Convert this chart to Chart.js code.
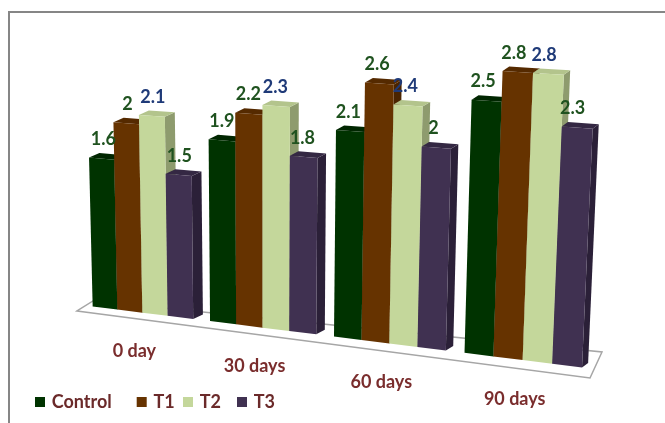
<!DOCTYPE html>
<html>
<head>
<meta charset="utf-8">
<script src="https://cdn.jsdelivr.net/npm/chart.js@4.4.1/dist/chart.umd.min.js"></script>
<style>
  html, body { margin: 0; padding: 0; background: #ffffff; }
  #wrap { width: 665px; height: 423px; position: relative; }
</style>
</head>
<body>
<div id="wrap"><canvas id="c" width="665" height="423"></canvas></div>
<script>
// ---- data ----
const categories = ['0 day', '30 days', '60 days', '90 days'];
const seriesNames = ['Control', 'T1', 'T2', 'T3'];
const control = [1.6, 1.9, 2.1, 2.5];
const t1 = [2.0, 2.2, 2.6, 2.8];
const t2 = [2.1, 2.3, 2.4, 2.8];
const t3 = [1.5, 1.8, 2.0, 2.3];
const valueMax = 3;

// ---- styles: front / side / top faces and value-label colour per series ----
const faces = [
  { front: '#003300', side: '#002000', top: '#002600', label: '#1f521f' },
  { front: '#663300', side: '#4a2400', top: '#552a00', label: '#1f521f' },
  { front: '#c4d79b', side: '#8e9b6e', top: '#b3c48c', label: '#1f3a78' },
  { front: '#403151', side: '#2b2038', top: '#342843', label: '#1f521f' }
];
const FONT = 'bold 18px Lato, "Open Sans", sans-serif';
const CAT_COLOR = '#7a2d2d';
const LEGEND_COLOR = '#6b2a2a';

// ---- perspective used to lay the flat chart out as a 3-D column chart ----
const persp = {
  xb: t => 84.7 + 454.5 * t + 52.6 * t * t,   // floor x along the category axis (t = 0..1)
  yb: x => 306 + 0.1247 * (x - 89),            // floor line under the column fronts
  unit: x => 93 + 0.022 * (x - 89),            // pixels per value unit
  vpx: 266, vpd: 7100,                          // vertical vanishing point
  depth: x => [10.5 - 0.009 * (x - 89), -4.5]   // receding direction of tops / sides
};
function project(t, v) {
  const xb = persp.xb(t);
  const h = v * persp.unit(xb);
  return { x: xb + (xb - persp.vpx) * h / persp.vpd, y: persp.yb(xb) - h };
}
function quad(ctx, pts, fill) {
  ctx.beginPath();
  ctx.moveTo(pts[0].x, pts[0].y);
  for (let i = 1; i < pts.length; i++) ctx.lineTo(pts[i].x, pts[i].y);
  ctx.closePath();
  ctx.fillStyle = fill;
  ctx.fill();
}

const columns3d = {
  id: 'columns3d',
  beforeDraw(chart) {
    const ctx = chart.ctx;
    ctx.save();
    ctx.strokeStyle = '#868686';
    ctx.lineWidth = 2;
    ctx.beginPath();
    ctx.moveTo(9, 423);
    ctx.lineTo(9, 12);
    ctx.lineTo(665, 12);
    ctx.stroke();
    ctx.restore();
  },
  beforeDatasetsDraw(chart) {
    const ctx = chart.ctx;
    const area = chart.chartArea;
    const yScale = chart.scales.y;
    const toT = px => (px - area.left) / (area.right - area.left);

    // floor
    const a = project(0, 0), b = project(1, 0);
    ctx.save();
    ctx.beginPath();
    ctx.moveTo(a.x - 7.7, a.y + 5.5);
    ctx.lineTo(a.x + 8.3, a.y - 4.5);
    ctx.lineTo(b.x + 10.2, b.y - 16.7);
    ctx.lineTo(b.x - 1.8, b.y + 9.3);
    ctx.closePath();
    ctx.fillStyle = '#ffffff';
    ctx.fill();
    ctx.strokeStyle = '#a6a6a6';
    ctx.lineWidth = 1.5;
    ctx.stroke();

    // columns, group by group, left to right
    const metas = chart.data.datasets.map((d, i) => chart.getDatasetMeta(i));
    const labels = [];
    for (let c = 0; c < categories.length; c++) {
      metas.forEach((meta, s) => {
        const el = meta.data[c];
        const t0 = toT(el.x - el.width / 2), t1v = toT(el.x + el.width / 2);
        const v = yScale.getValueForPixel(el.y);
        const BL = project(t0, 0), BR = project(t1v, 0);
        const TL = project(t0, v), TR = project(t1v, v);
        const [dx, dy] = persp.depth((TL.x + TR.x) / 2);
        const f = faces[s];
        quad(ctx, [BR, TR, { x: TR.x + dx, y: TR.y + dy }, { x: BR.x + dx, y: BR.y + dy }], f.side);
        quad(ctx, [TL, TR, { x: TR.x + dx, y: TR.y + dy }, { x: TL.x + dx, y: TL.y + dy }], f.top);
        quad(ctx, [BL, BR, TR, TL], f.front);
        const tc = (t0 + t1v) / 2;
        labels.push({
          x: (TL.x + TR.x) / 2 + 2 - 7 * tc,
          y: (TL.y + TR.y) / 2 - 19,
          text: String(chart.data.datasets[s].data[c]),
          color: f.label
        });
      });
    }

    // value labels
    ctx.font = FONT;
    ctx.textAlign = 'center';
    ctx.textBaseline = 'middle';
    labels.forEach(l => { ctx.fillStyle = l.color; ctx.fillText(l.text, l.x, l.y); });

    // category labels in front of the floor
    const xs = chart.scales.x;
    ctx.fillStyle = CAT_COLOR;
    categories.forEach((cat, i) => {
      const p = project(toT(xs.getPixelForValue(i)), 0);
      ctx.fillText(cat, p.x - 8, p.y + 39);
    });

    // legend
    const boxX = [35, 136.7, 183, 237];
    ctx.textAlign = 'left';
    chart.data.datasets.forEach((ds, i) => {
      ctx.fillStyle = faces[i].front;
      ctx.fillRect(boxX[i], 397, 10, 10);
      ctx.fillStyle = LEGEND_COLOR;
      ctx.fillText(ds.label, boxX[i] + 16.7, 402.5);
    });
    ctx.restore();
    return false;
  }
};

new Chart(document.getElementById('c'), {
  type: 'bar',
  data: {
    labels: categories,
    datasets: [control, t1, t2, t3].map((vals, i) => ({
      label: seriesNames[i],
      data: vals,
      backgroundColor: faces[i].front,
      categoryPercentage: 0.86,
      barPercentage: 1.0
    }))
  },
  options: {
    responsive: false,
    animation: false,
    events: [],
    layout: { padding: 0 },
    plugins: { legend: { display: false }, tooltip: { enabled: false } },
    scales: {
      x: { display: false },
      y: { display: false, min: 0, max: valueMax }
    }
  },
  plugins: [columns3d]
});
</script>
</body>
</html>
